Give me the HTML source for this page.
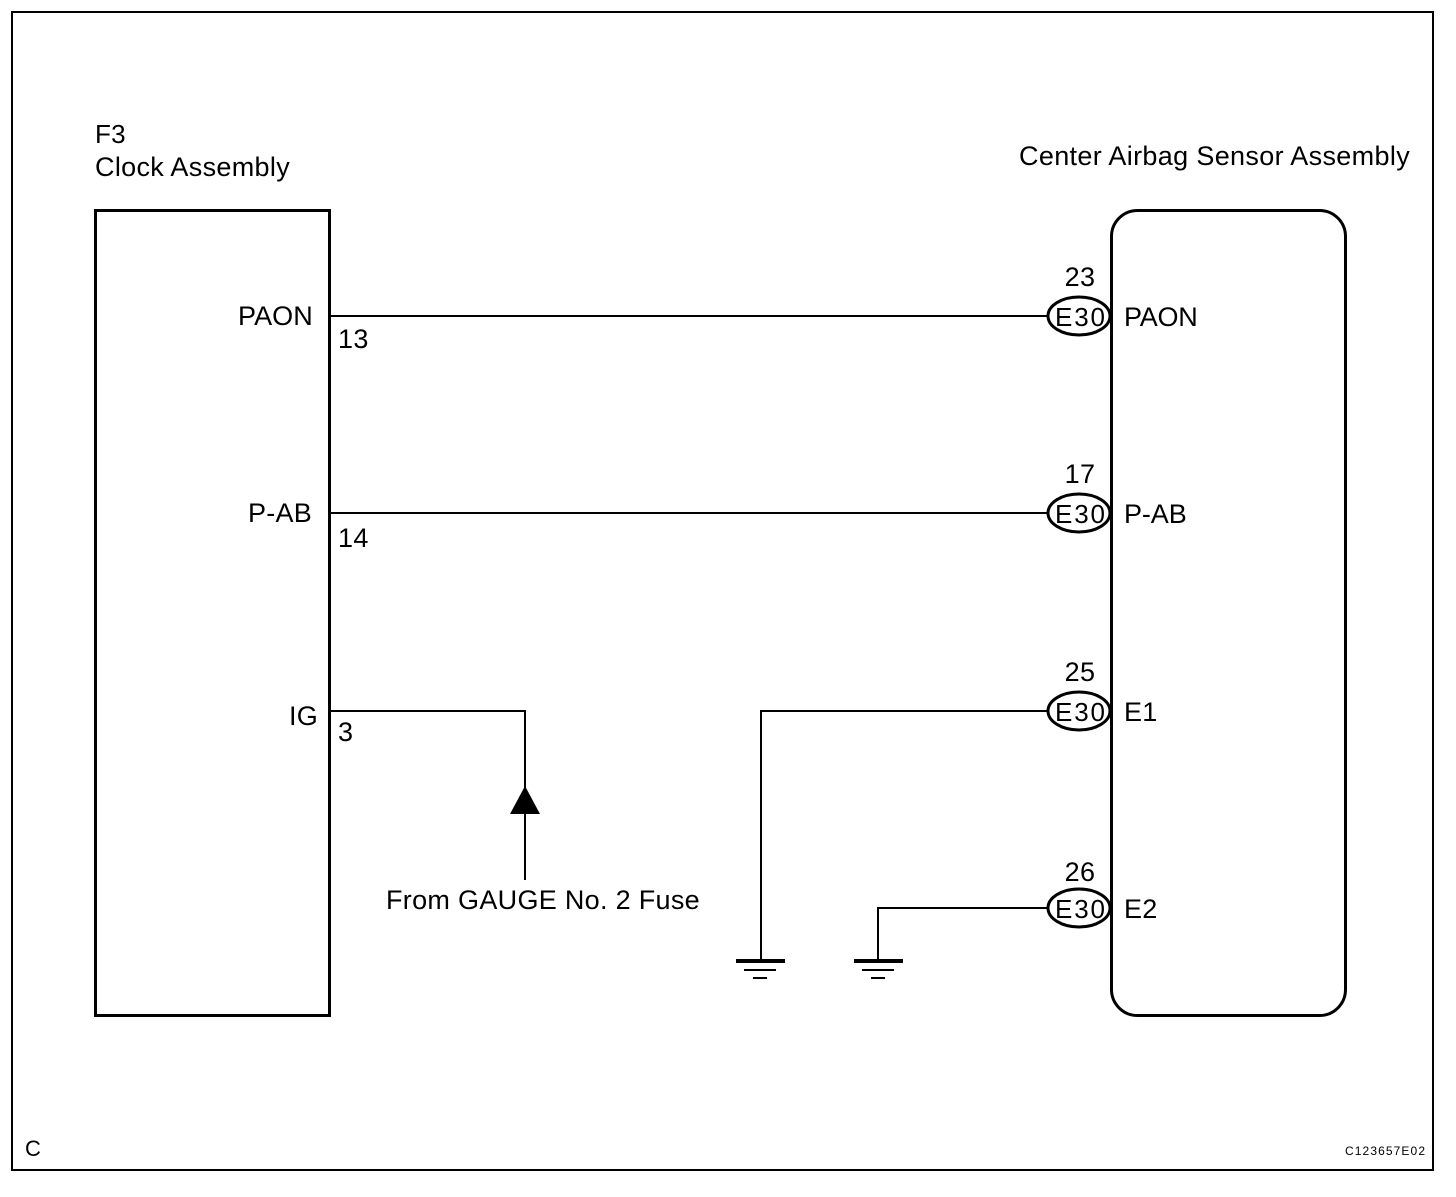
<!DOCTYPE html>
<html><head><style>body{margin:0;background:#fff}</style></head><body>
<svg width="1456" height="1192" viewBox="0 0 1456 1192" xmlns="http://www.w3.org/2000/svg" font-family="Liberation Sans, sans-serif" font-size="27" letter-spacing="0.3" fill="#000">
<rect x="12" y="12" width="1421" height="1158" fill="none" stroke="#000" stroke-width="2"/>
<rect x="95.5" y="210.5" width="234" height="805" fill="none" stroke="#000" stroke-width="3"/>
<rect x="1111.5" y="210.5" width="234" height="805" rx="26" fill="none" stroke="#000" stroke-width="3"/>
<text x="95" y="143" font-size="26">F3</text>
<text x="95" y="176" textLength="195">Clock Assembly</text>
<text x="1019" y="165" textLength="391">Center Airbag Sensor Assembly</text>
<g stroke="#000" stroke-width="2" fill="none">
<line x1="330" y1="316" x2="1048" y2="316"/>
<line x1="330" y1="513" x2="1048" y2="513"/>
<polyline points="330,711 525,711 525,880"/>
<polyline points="1048,711 761,711 761,961"/>
<polyline points="1048,908 878,908 878,961"/>
<ellipse cx="1079" cy="316" rx="31" ry="19" stroke-width="3"/>
<ellipse cx="1079" cy="513" rx="31" ry="19" stroke-width="3"/>
<ellipse cx="1079" cy="711" rx="31" ry="19" stroke-width="3"/>
<ellipse cx="1079" cy="908" rx="31" ry="19" stroke-width="3"/>
<line x1="744" y1="970" x2="776" y2="970"/>
<line x1="753" y1="978" x2="767" y2="978"/>
<line x1="862" y1="970" x2="894" y2="970"/>
<line x1="871" y1="978" x2="885" y2="978"/>
</g>
<rect x="736" y="959" width="49" height="4"/>
<rect x="854" y="959" width="49" height="4"/>
<polygon points="525,786 510,814 540,814"/>
<text x="238" y="325" textLength="75">PAON</text>
<text x="248" y="522" textLength="64">P-AB</text>
<text x="289" y="725" textLength="29">IG</text>
<text x="338" y="348">13</text>
<text x="338" y="547">14</text>
<text x="338" y="741">3</text>
<g text-anchor="middle">
<text x="1080" y="286">23</text>
<text x="1080" y="483">17</text>
<text x="1080" y="681">25</text>
<text x="1080" y="881">26</text>
</g>
<g letter-spacing="0" font-size="26">
<text x="1055" y="326" textLength="50">E30</text>
<text x="1055" y="523" textLength="50">E30</text>
<text x="1055" y="721" textLength="50">E30</text>
<text x="1055" y="918" textLength="50">E30</text>
</g>
<text x="1124" y="326" textLength="74">PAON</text>
<text x="1124" y="523" textLength="63">P-AB</text>
<text x="1124" y="721">E1</text>
<text x="1124" y="918">E2</text>
<text x="386" y="909" textLength="314">From GAUGE No. 2 Fuse</text>
<text x="25" y="1156" font-size="22" letter-spacing="0">C</text>
<text x="1345" y="1155" font-size="12" letter-spacing="0" textLength="80">C123657E02</text>
</svg>
</body></html>
